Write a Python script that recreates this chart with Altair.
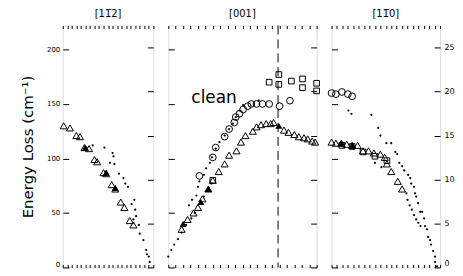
import altair as alt
import pandas as pd

CM_PER_MEV = 8.0655
Y_MAX = 222

panel_titles = ["[11\u03052]", "[001]", "[11\u03050]"]
y_title = "Energy Loss (cm\u207b\u00b9)"
cm_ticks = [0, 50, 100, 150, 200]
mev_ticks = [0, 5, 10, 15, 20, 25]
x_minor = [i / 20 for i in range(21)]

# ---------- left panel [1 -1 2] ----------
L_tri_x = [0.01, 0.08, 0.15, 0.19, 0.24, 0.29, 0.35, 0.38, 0.45, 0.48, 0.54, 0.58, 0.64, 0.68, 0.74, 0.78]
L_tri_y = [130, 128, 121, 120, 110, 109, 99, 97, 87, 86, 76, 72, 60, 55, 43, 39]
L_ftri_x = [0.25, 0.48, 0.58]
L_ftri_y = [110, 87, 73]
L_dot_x = [0.33, 0.46, 0.55, 0.56, 0.52, 0.57, 0.62, 0.67, 0.69, 0.72, 0.79, 0.76, 0.80, 0.81, 0.78, 0.84, 0.85, 0.89, 0.92, 0.93, 0.95, 0.96]
L_dot_y = [112, 110, 105, 102, 96, 95, 86, 82, 77, 74, 62, 58, 53, 47, 44, 39, 31, 25, 16, 12, 10, 5]

# ---------- middle panel [001] ----------
M_tri_x = [0.09, 0.13, 0.17, 0.20, 0.23, 0.27, 0.30, 0.34, 0.38, 0.41, 0.46, 0.49, 0.52, 0.57, 0.595, 0.625, 0.66, 0.69, 0.71, 0.78, 0.81, 0.85, 0.88, 0.915, 0.94, 0.97, 0.99]
M_tri_y = [35, 44, 50, 55, 63, 72, 80, 88, 95, 103, 107, 115, 121, 125, 129, 131, 132, 132, 133, 126, 124, 122, 120, 119, 118, 116, 115]
M_ftri_x = [0.10, 0.22, 0.27, 0.745]
M_ftri_y = [40, 60, 72, 130]
M_circ_x = [0.21, 0.30, 0.32, 0.38, 0.41, 0.445, 0.455, 0.48, 0.505, 0.535, 0.56, 0.595, 0.635, 0.68, 0.75, 0.82]
M_circ_y = [84, 101, 110, 120, 127, 133, 138, 141, 145, 148, 150, 150, 150, 150, 148, 153]
M_sq_x = [0.30, 0.68, 0.745, 0.745, 0.83, 0.905, 0.905, 1.0, 1.0]
M_sq_y = [80, 170, 177, 168, 171, 173, 165, 169, 162]
M_dot_x = [0.0, 0.02, 0.04, 0.065, 0.09, 0.12, 0.155, 0.18, 0.24, 0.27, 0.29,
           0.14, 0.16, 0.19, 0.20, 0.21, 0.24, 0.255, 0.28, 0.295, 0.32, 0.345, 0.38, 0.41, 0.435, 0.455, 0.48, 0.505, 0.61]
M_dot_y = [10, 16, 21, 26, 32, 39, 45, 50, 65, 71, 77,
           57, 62, 66, 74, 79, 85, 91, 96, 101, 109, 115, 121, 127, 132, 138, 144, 149, 153]
boundary_x = [0.74]

# ---------- right panel [1 -1 0] ----------
R_circ_x = [0.0, 0.04, 0.095, 0.15, 0.19]
R_circ_y = [160, 159, 161, 159, 157]
R_tri_x = [0.0, 0.04, 0.09, 0.14, 0.19, 0.24, 0.29, 0.34, 0.39, 0.45, 0.49, 0.51, 0.55, 0.61, 0.65]
R_tri_y = [115, 114, 114, 113, 112, 112, 107, 107, 105, 104, 101, 95, 88, 79, 72]
R_ftri_x = [0.09, 0.19]
R_ftri_y = [114, 112]
R_sq_x = [0.095, 0.19, 0.29, 0.40, 0.51]
R_sq_y = [112, 111, 106, 102, 98]
R_dot_x = [0.156, 0.183, 0.367, 0.43, 0.45, 0.505, 0.55, 0.587, 0.605,
           0.624, 0.651, 0.67, 0.706, 0.725, 0.734, 0.761, 0.77, 0.78, 0.798, 0.817, 0.835, 0.853, 0.862, 0.88, 0.89, 0.908, 0.917, 0.936, 0.954, 0.954, 0.972,
           0.40, 0.46, 0.69, 0.70, 0.72, 0.74, 0.76, 0.78, 0.80, 0.82]
R_dot_y = [144, 141, 140, 128, 121, 114, 114, 106, 104,
           96, 93, 89, 85, 82, 77, 74, 68, 65, 59, 51, 51, 45, 38, 35, 28, 25, 21, 15, 10, 5, 1,
           96, 92, 68, 62, 57, 53, 48, 44, 41, 38]

PANEL_H = 243


def frame(xs, ys, kind):
    return pd.DataFrame({"x": xs, "y": ys, "kind": kind})


X_SCALE = alt.Scale(domain=[0, 1], nice=False, zero=False)
Y_SCALE = alt.Scale(domain=[0, Y_MAX], nice=False)
MEV_SCALE = alt.Scale(domain=[0, Y_MAX / CM_PER_MEV], nice=False)

BOTTOM_AXIS = alt.Axis(orient="bottom", values=x_minor, tickSize=3, offset=-3, labels=False,
                       domain=False, grid=False, title=None, tickColor="black")
TOP_AXIS = alt.Axis(orient="top", values=x_minor, tickSize=3, offset=-3, labels=False,
                    domain=False, grid=False, title=None, tickColor="black")

MARKS = {
    "tri": dict(shape="triangle-up", filled=False, size=50, strokeWidth=1),
    "ftri": dict(shape="triangle-up", filled=True, size=50),
    "circ": dict(shape="circle", filled=False, size=46, strokeWidth=1),
    "sq": dict(shape="square", filled=False, size=32, strokeWidth=1),
    "dot": dict(shape="circle", filled=True, size=5),
}


def panel(df, title, w, left_labels, right_labels, extra=None, first=False):
    left_axis = alt.Axis(orient="left", values=cm_ticks, tickSize=6, offset=-6, domain=False,
                         grid=False, labels=left_labels, labelFontSize=7, labelPadding=3,
                         labelFont="DejaVu Sans", tickColor="black", labelColor="black",
                         labelFlush=True, labelFlushOffset=0,
                         title=y_title if first else None, titleFontSize=15,
                         titleFontWeight="normal", titleFont="DejaVu Sans", titlePadding=11,
                         titleColor="black")
    right_axis = alt.Axis(orient="right", values=mev_ticks, tickSize=6, offset=-6, domain=False,
                          grid=False, labels=right_labels, labelFontSize=8, labelPadding=4,
                          labelFont="DejaVu Sans", tickColor="black", labelColor="black",
                          labelFlush=True, labelFlushOffset=0, title=None)
    base = alt.Chart(df)
    layers = []
    for kind, style in MARKS.items():
        layers.append(
            base.transform_filter(alt.datum.kind == kind)
            .mark_point(color="black", opacity=1, **style)
            .encode(x=alt.X("x:Q", scale=X_SCALE, axis=BOTTOM_AXIS),
                    y=alt.Y("y:Q", scale=Y_SCALE, axis=left_axis))
        )
    if extra:
        layers += extra
    group_a = alt.layer(*layers)
    group_b = (
        base.transform_calculate(mev=f"datum.y / {CM_PER_MEV}")
        .mark_point(opacity=0)
        .encode(x=alt.X("x:Q", scale=X_SCALE, axis=TOP_AXIS),
                y=alt.Y("mev:Q", scale=MEV_SCALE, axis=right_axis))
    )
    return (
        alt.layer(group_a, group_b)
        .resolve_scale(x="independent", y="independent")
        .properties(width=w, height=PANEL_H,
                    title=alt.TitleParams(title, fontSize=10, font="DejaVu Sans",
                                          fontWeight="normal", offset=6, color="black"))
    )


left_df = pd.concat([frame(L_tri_x, L_tri_y, "tri"), frame(L_ftri_x, L_ftri_y, "ftri"),
                     frame(L_dot_x, L_dot_y, "dot")])
mid_df = pd.concat([frame(M_tri_x, M_tri_y, "tri"), frame(M_ftri_x, M_ftri_y, "ftri"),
                    frame(M_circ_x, M_circ_y, "circ"), frame(M_sq_x, M_sq_y, "sq"),
                    frame(M_dot_x, M_dot_y, "dot")])
right_df = pd.concat([frame(R_tri_x, R_tri_y, "tri"), frame(R_ftri_x, R_ftri_y, "ftri"),
                      frame(R_circ_x, R_circ_y, "circ"), frame(R_sq_x, R_sq_y, "sq"),
                      frame(R_dot_x, R_dot_y, "dot")])

dash = alt.Chart(pd.DataFrame({"x": boundary_x})).mark_rule(
    color="black", strokeDash=[9, 5], strokeWidth=1
).encode(x=alt.X("x:Q", scale=X_SCALE, axis=BOTTOM_AXIS))

clean = alt.Chart(pd.DataFrame({"t": ["clean"]})).mark_text(
    font="DejaVu Sans", fontSize=17, align="center", baseline="middle", color="black"
).encode(x=alt.value(46), y=alt.value(73), text="t:N")

p1 = panel(left_df, panel_titles[0], 91, True, False, first=True)
p2 = panel(mid_df, panel_titles[1], 149, False, False, extra=[dash, clean])
p3 = panel(right_df, panel_titles[2], 109, False, True)

chart = (
    alt.hconcat(p1, p2, p3, spacing=15, bounds="flush")
    .configure_view(stroke="black", strokeWidth=1.3)
    .configure(padding={"left": 12, "top": 0, "right": 0, "bottom": 0}, background="white")
)

chart.save("out.html", embed_options={"renderer": "svg", "actions": False})
